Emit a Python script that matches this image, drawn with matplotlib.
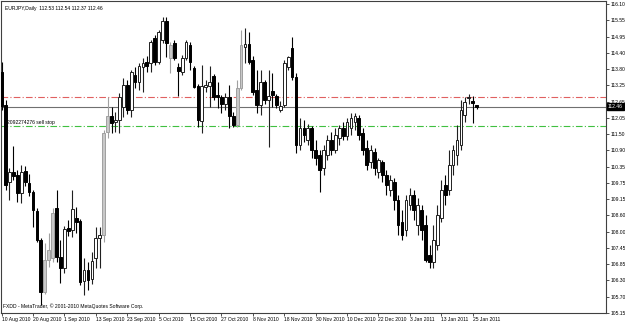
import numpy as np
import matplotlib
matplotlib.use("Agg")
import matplotlib.pyplot as plt

plt.rcParams['font.family'] = ['Liberation Sans', 'DejaVu Sans']

# EURJPY daily candles, 10 Aug 2010 .. 26 Jan 2011
opens = [113.69, 112.52, 109.79, 110.14, 110.03, 109.40, 110.18, 109.75, 109.44, 108.76,
         107.73, 105.89, 107.03, 107.10, 108.87, 107.13, 106.74, 108.16, 108.09, 108.51,
         108.41, 106.28, 106.67, 106.35, 107.10, 107.80, 107.91, 111.56, 112.13, 111.92,
         111.99, 112.45, 113.23, 112.34, 113.58, 113.34, 113.87, 114.04, 114.01, 114.89,
         114.04, 114.82, 115.50, 114.18, 114.72, 113.87, 113.69, 114.18, 114.65, 113.83,
         113.19, 111.95, 113.16, 113.19, 113.55, 112.88, 112.81, 112.56, 112.81, 112.13,
         111.81, 113.12, 114.58, 114.68, 114.11, 113.05, 112.52, 113.34, 112.70, 113.01,
         112.84, 112.34, 112.52, 113.87, 114.54, 113.51, 111.10, 111.70, 111.28, 111.70,
         110.92, 110.75, 110.29, 110.75, 111.28, 110.92, 111.35, 111.70, 111.42, 111.70,
         111.92, 112.06, 111.53, 110.99, 110.50, 110.85, 110.14, 110.50, 110.04, 109.51,
         109.79, 109.15, 108.37, 108.09, 108.98, 109.33, 108.27, 108.80, 108.27, 107.20,
         106.96, 107.56, 108.51, 109.68, 109.51, 110.39, 110.75, 111.10, 112.16, 112.77,
         112.66, 112.53]
highs = [114.04, 112.70, 110.29, 111.07, 110.21, 110.39, 110.36, 110.07, 109.51, 108.87,
         107.80, 107.62, 107.98, 108.87, 109.51, 107.73, 108.23, 108.44, 109.51, 108.91,
         108.48, 107.10, 106.96, 107.31, 108.20, 108.20, 111.63, 112.81, 112.45, 112.27,
         112.95, 113.48, 113.41, 113.76, 113.87, 114.01, 114.18, 114.26, 114.82, 115.00,
         115.18, 115.64, 115.64, 114.75, 114.82, 114.01, 114.29, 114.82, 114.75, 113.90,
         113.26, 113.94, 113.41, 113.90, 113.62, 113.34, 112.88, 112.95, 113.23, 112.27,
         113.41, 115.18, 115.25, 115.11, 114.26, 113.76, 113.76, 113.41, 113.76, 113.65,
         112.91, 112.66, 114.11, 114.26, 114.93, 113.65, 112.06, 111.99, 111.85, 111.77,
         111.28, 110.92, 111.10, 111.46, 111.56, 111.70, 111.81, 111.92, 112.06, 112.23,
         112.23, 112.16, 111.70, 111.28, 111.10, 110.99, 110.64, 110.57, 110.21, 110.04,
         109.93, 109.33, 108.80, 109.33, 109.58, 109.51, 109.22, 108.98, 108.62, 107.56,
         108.27, 108.98, 109.86, 110.04, 110.92, 111.10, 111.81, 112.70, 112.81, 112.91,
         112.84, 112.54]
lows = [112.34, 109.51, 109.15, 109.86, 109.08, 109.04, 109.65, 109.30, 108.20, 107.66,
        105.43, 105.82, 106.78, 106.96, 106.96, 106.21, 106.56, 107.88, 107.84, 107.98,
        106.14, 105.79, 105.96, 106.18, 106.74, 106.74, 107.66, 111.35, 111.53, 111.56,
        111.53, 112.09, 112.20, 112.09, 113.12, 113.05, 112.98, 113.69, 113.69, 113.94,
        113.97, 114.72, 114.22, 113.65, 114.11, 112.84, 113.58, 114.11, 113.76, 113.12,
        111.74, 111.53, 112.98, 112.45, 112.70, 112.41, 112.23, 112.34, 111.70, 111.74,
        111.74, 113.05, 114.01, 113.97, 112.88, 112.23, 112.16, 112.56, 111.03, 112.45,
        112.41, 112.27, 112.45, 113.76, 113.41, 110.82, 110.92, 111.21, 111.10, 110.64,
        110.39, 109.44, 110.04, 110.57, 110.75, 110.82, 111.10, 111.28, 111.28, 111.46,
        111.63, 111.28, 110.75, 110.21, 110.29, 110.04, 109.93, 109.79, 109.33, 109.30,
        108.80, 107.91, 107.73, 107.88, 108.80, 108.44, 107.91, 107.73, 106.96, 106.74,
        106.74, 107.38, 108.37, 108.98, 109.33, 110.04, 110.39, 110.92, 111.92, 112.56,
        111.88, 112.37]
closes = [112.49, 109.68, 110.14, 110.00, 109.40, 110.14, 109.79, 109.44, 108.80, 107.73,
          105.89, 107.03, 107.38, 108.69, 107.13, 106.74, 108.12, 108.05, 108.83, 108.37,
          106.25, 106.67, 106.32, 106.99, 107.80, 107.91, 111.53, 112.13, 111.88, 111.99,
          112.81, 113.23, 112.34, 113.69, 113.34, 113.90, 114.01, 113.90, 114.75, 114.04,
          115.11, 115.50, 114.72, 114.65, 114.18, 113.72, 114.18, 114.75, 114.04, 113.16,
          111.99, 113.19, 113.23, 113.34, 112.81, 112.81, 112.56, 112.81, 112.13, 111.81,
          113.12, 114.65, 114.68, 114.04, 112.98, 112.52, 113.34, 112.70, 112.84, 112.88,
          112.52, 112.49, 114.01, 114.22, 113.51, 111.10, 111.70, 111.46, 111.70, 110.92,
          110.64, 110.21, 110.92, 111.28, 110.92, 111.46, 111.70, 111.42, 111.92, 112.06,
          112.13, 111.46, 110.92, 110.39, 110.92, 110.29, 110.57, 110.04, 109.68, 109.86,
          109.15, 108.27, 107.91, 109.15, 109.33, 108.80, 108.98, 108.09, 107.03, 106.96,
          107.73, 108.62, 109.51, 109.33, 110.39, 110.92, 111.28, 112.34, 112.63, 112.81,
          112.59, 112.46]

date_labels = ['10 Aug 2010', '20 Aug 2010', '1 Sep 2010', '13 Sep 2010', '23 Sep 2010',
               '5 Oct 2010', '15 Oct 2010', '27 Oct 2010', '8 Nov 2010', '18 Nov 2010',
               '30 Nov 2010', '10 Dec 2010', '22 Dec 2010', '3 Jan 2011', '13 Jan 2011',
               '25 Jan 2011']
price_labels = ['116.10', '115.55', '114.95', '114.40', '113.80', '113.25', '112.65',
                '112.05', '111.50', '110.90', '110.35', '109.75', '109.15', '108.60',
                '108.00', '107.45', '106.85', '106.30', '105.70', '105.15']

bid = 112.46
sell_stop = 111.77
upper_level = 112.80

# candles drawn with grey body in the picture
gray_bars = [11, 12, 13, 26, 27, 43, 60, 61]

o = np.array(opens)
h = np.array(highs)
l = np.array(lows)
c = np.array(closes)
idx = np.arange(len(o))

fs = 3.6

fig = plt.figure(figsize=(6.25, 3.23), dpi=100)
ax = fig.add_axes([1 / 625, 10 / 323, 605 / 625, 312 / 323])

for i in idx:
    if i in gray_bars:
        fc, ec = '#c8c8c8', '#a0a0a0'
    elif c[i] >= o[i]:
        fc, ec = 'white', '#202020'
    else:
        fc, ec = 'black', 'black'
    ax.vlines(i, l[i], h[i], color=ec, lw=0.8, zorder=2)
    bot = min(o[i], c[i])
    ht = max(abs(c[i] - o[i]), 0.02)
    ax.bar(i, ht, bottom=bot, width=0.7, facecolor=fc, edgecolor=ec,
           linewidth=0.7, zorder=3)

ax.axhline(upper_level, color='#e06060', lw=0.8, ls=(0, (6, 2, 1, 2)), zorder=1)
ax.axhline(sell_stop, color='#40c040', lw=0.8, ls=(0, (6, 2, 1, 2)), zorder=1)
ax.axhline(bid, color='#707070', lw=0.8, zorder=1)

ax.set_xlim(-0.15, 153.95)
ax.set_ylim(105.15, 116.21)

ax.set_xticks(np.arange(0, 121, 8))
ax.set_xticklabels(date_labels, ha='left')
ax.set_yticks(np.linspace(116.10, 105.15, 20))
ax.set_yticklabels(price_labels)
ax.yaxis.tick_right()
ax.tick_params(axis='both', labelsize=fs, length=2.2, width=0.6, pad=0.8,
               colors='#333333', labelcolor='black')

for s in ax.spines.values():
    s.set_color('#404040')
    s.set_linewidth(0.8)

ax.text(0.006, 0.985, 'EURJPY,Daily  112.53 112.54 112.37 112.46', transform=ax.transAxes,
        fontsize=fs, va='top', ha='left')
ax.text(0.004, 0.012, 'FXDD - MetaTrader, \u00a9 2001-2010 MetaQuotes Software Corp.',
        transform=ax.transAxes, fontsize=fs, va='bottom', ha='left')
ax.text(1.5, sell_stop + 0.05, '2092274276 sell stop', fontsize=fs, va='bottom',
        ha='left')
ax.text(1.003, bid, '112.46', transform=ax.get_yaxis_transform(), fontsize=fs,
        va='center', ha='left', color='white',
        bbox=dict(boxstyle='square,pad=0.2', fc='black', ec='black'), zorder=5)

fig.savefig('out.png', dpi=100)
